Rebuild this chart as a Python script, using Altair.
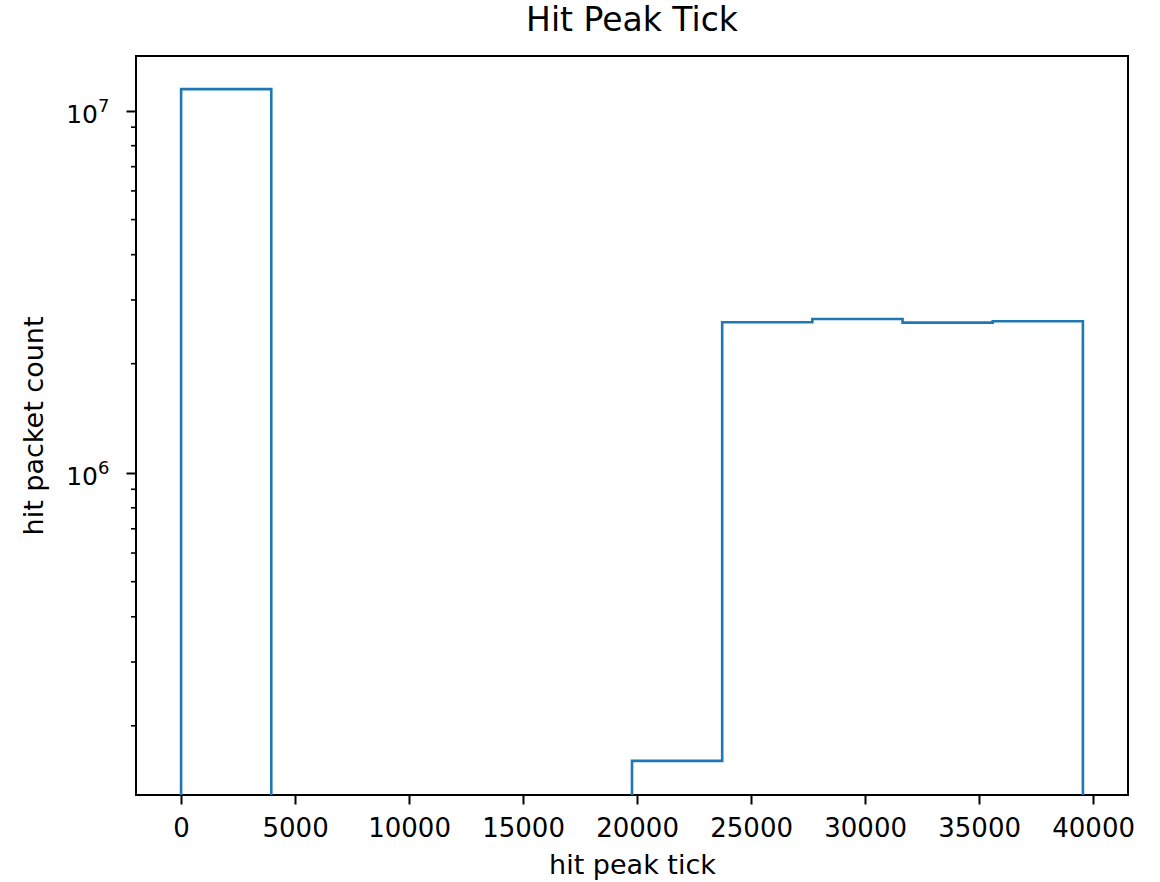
import altair as alt
import pandas as pd

# Histogram of hit peak ticks: 10 equal-width bins, log-scaled counts
TITLE = "Hit Peak Tick"
X_LABEL = "hit peak tick"
Y_LABEL = "hit packet count"

BIN_START = 0
BIN_STOP = 39552
counts = [11460000, 0, 0, 0, 0, 160000, 2603000, 2658000, 2597000, 2619000]

x_ticks = [0, 5000, 10000, 15000, 20000, 25000, 30000, 35000, 40000]
y_major = [1e6, 1e7]
y_major_exp = ["6", "7"]
y_minor = [2e5, 3e5, 4e5, 5e5, 6e5, 7e5, 8e5, 9e5,
           2e6, 3e6, 4e6, 5e6, 6e6, 7e6, 8e6, 9e6]

x_domain = [-1978, 41530]
y_domain = [1.288e5, 1.415e7]

LINE_COLOR = "#1f77b4"
FONT = "DejaVu Sans"

# Step outline: rise at the first edge, flat over each bin, drop at the last edge.
# Empty bins cannot sit on a log axis, so they are sent far below the floor and clipped.
FLOOR = 1.0
n = len(counts)
width = (BIN_STOP - BIN_START) / n
edges = [BIN_START + i * width for i in range(n + 1)]
pts = [(edges[0], FLOOR)]
for i, c in enumerate(counts):
    v = c if c > 0 else FLOOR
    pts.append((edges[i], v))
    pts.append((edges[i + 1], v))
pts.append((edges[-1], FLOOR))
step_df = pd.DataFrame({"x": [p[0] for p in pts], "y": [p[1] for p in pts],
                        "k": list(range(len(pts)))})

x_scale = alt.Scale(domain=x_domain, nice=False, zero=False)
y_scale = alt.Scale(type="log", domain=y_domain, nice=False)

step = alt.Chart(step_df).mark_line(
    color=LINE_COLOR, strokeWidth=2.6, clip=True, strokeJoin="miter"
).encode(
    x=alt.X("x:Q", scale=x_scale, title=X_LABEL,
            axis=alt.Axis(values=x_ticks, format="d", grid=False, domain=False,
                          tickSize=9, tickWidth=2, tickColor="black",
                          labelFontSize=26, labelPadding=11, labelColor="black",
                          labelFont=FONT, labelFlush=False,
                          titleFontSize=27, titleFont=FONT, titleFontWeight="normal",
                          titleColor="black", titleBaseline="middle", titleY=70)),
    y=alt.Y("y:Q", scale=y_scale, title=Y_LABEL,
            axis=alt.Axis(values=y_major, grid=False, domain=False, labels=False,
                          tickSize=10, tickWidth=2, tickColor="black",
                          titleFontSize=27, titleFont=FONT, titleFontWeight="normal",
                          titleColor="black", titleBaseline="middle",
                          titleAngle=270, titleX=-102, titleY=369.5,
                          titleAlign="center")),
    order="k:Q",
)

# Minor log ticks on the left edge
minor_df = pd.DataFrame({"v": y_minor})
minor = alt.Chart(minor_df).mark_rule(color="black", strokeWidth=1.6).encode(
    x=alt.value(-5), x2=alt.value(0),
    y=alt.Y("v:Q", scale=y_scale),
)

# Power-of-ten labels: base "10" with a raised exponent
major_df = pd.DataFrame({"v": y_major, "e": y_major_exp})
base_lbl = alt.Chart(major_df).mark_text(
    text="10", font=FONT, fontSize=25, color="black",
    align="right", baseline="alphabetic", dy=12
).encode(x=alt.value(-38), y=alt.Y("v:Q", scale=y_scale))
exp_lbl = alt.Chart(major_df).mark_text(
    font=FONT, fontSize=18, color="black",
    align="left", baseline="alphabetic", dy=1
).encode(x=alt.value(-38), y=alt.Y("v:Q", scale=y_scale), text="e:N")

chart = alt.layer(step, minor, base_lbl, exp_lbl).properties(
    width=992, height=739,
    background="white",
    title=alt.TitleParams(TITLE, font=FONT, fontSize=33, fontWeight="normal",
                          color="black", anchor="middle", baseline="alphabetic",
                          frame="group", offset=23, dy=31),
    autosize=alt.AutoSizeParams(type="none"),
    padding={"left": 136, "top": 56, "right": 32, "bottom": 87},
).configure_view(stroke="black", strokeWidth=2)

chart.save("out.html", embed_options={"renderer": "svg", "actions": False})
